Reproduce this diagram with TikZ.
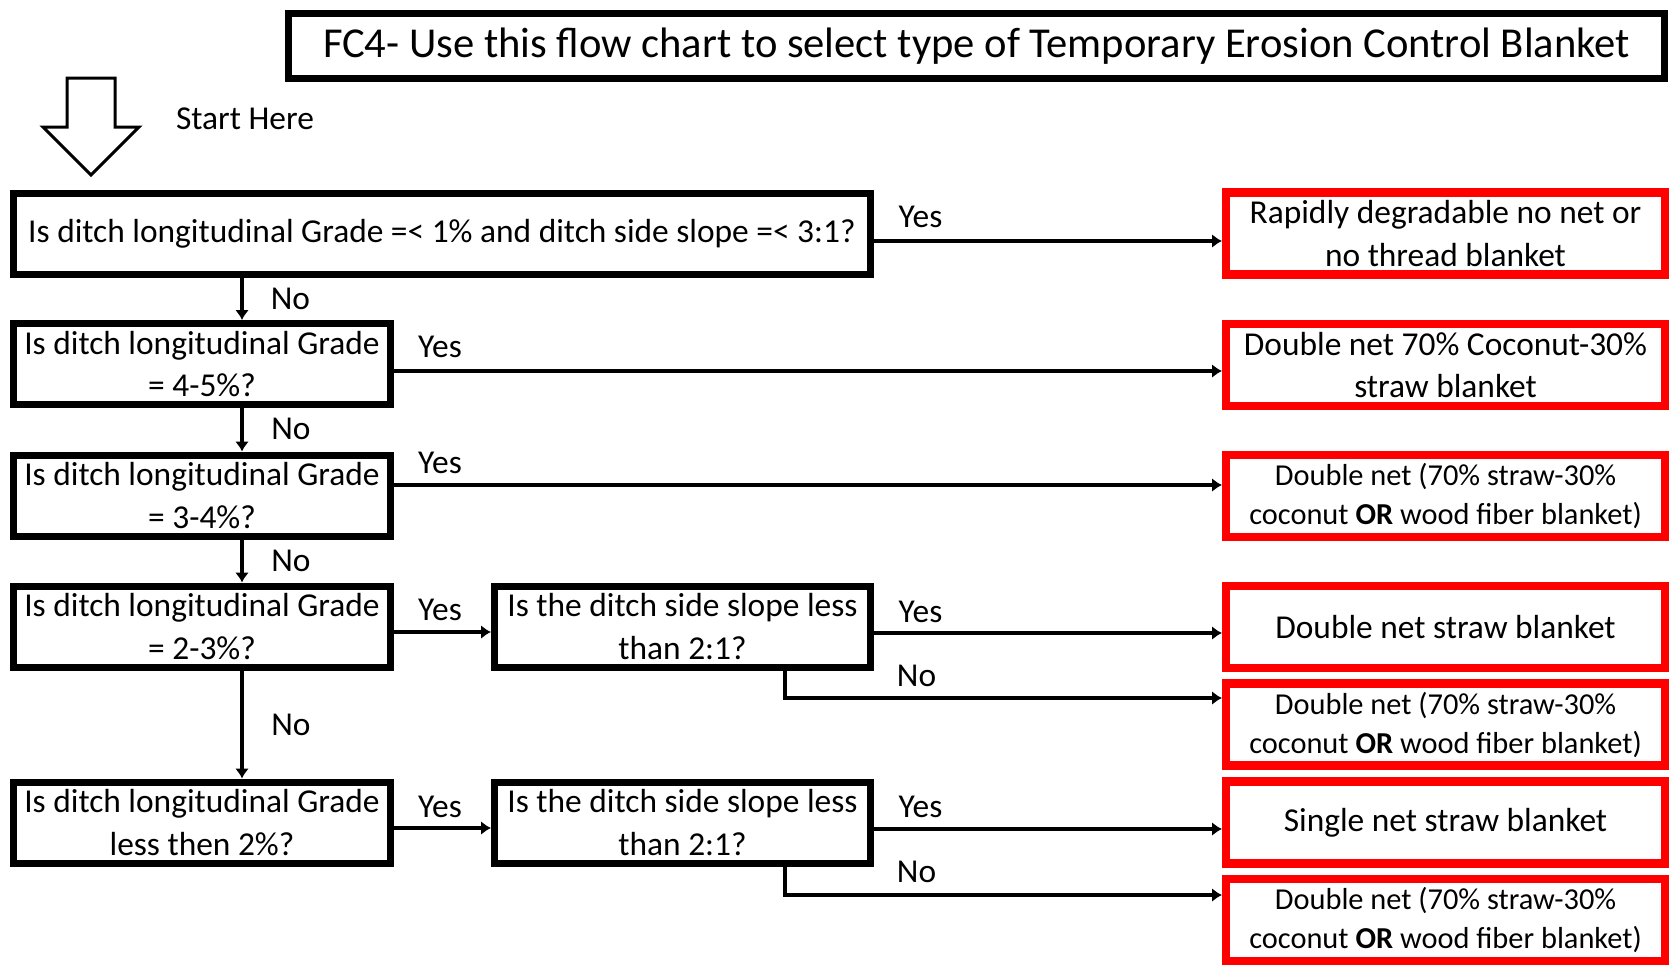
\documentclass[tikz,border=0pt]{standalone}
\usepackage{fontspec}
\setmainfont{Carlito}
\usetikzlibrary{arrows.meta}

\newcommand\fcmain{\fontsize{16.7}{21.4}\selectfont}
\newcommand\fcsmall{\fontsize{15.2}{19.5}\selectfont}
\newcommand\fctitle{\fontsize{21.3}{25}\selectfont}

\begin{document}
\begin{tikzpicture}[x=0.5pt,y=-0.5pt,->,>={Latex[length=5pt,width=7pt]},
                    line width=1.6pt,font=\fcmain]
  \tikzstyle{qbox}=[draw,rectangle,line width=3.5pt,inner sep=0pt,align=center,
                    minimum width=188.5pt,minimum height=40.5pt]
  \tikzstyle{rbox}=[draw=red,rectangle,line width=4.2pt,inner sep=0pt,align=center,
                    minimum width=219.3pt,minimum height=41pt]
  \tikzstyle{lbl}=[inner sep=0pt]

  \useasboundingbox (0,0) rectangle (1669,965);

  \node[qbox,minimum width=688pt,minimum height=32.5pt,font=\fctitle] (title) at (976.5,46)
        {FC4- Use this flow chart to select type of Temporary Erosion Control Blanket};

  % start arrow
  \draw[-,line width=1.5pt] (67,78) -- (115,78) -- (115,127) -- (139,127) -- (91,175)
        -- (43,127) -- (67,127) -- cycle;
  \node[lbl] (start) at (245,119) {Start Here};

  % questions
  \node[qbox,minimum width=428.5pt] (Q1) at (442,234)
        {Is ditch longitudinal Grade =< 1\% and ditch side slope =< 3:1?};
  \node[qbox] (Q2) at (202,364)   {Is ditch longitudinal Grade\\= 4-5\%?};
  \node[qbox] (Q3) at (202,495.5) {Is ditch longitudinal Grade\\= 3-4\%?};
  \node[qbox] (Q4) at (202,626.5) {Is ditch longitudinal Grade\\= 2-3\%?};
  \node[qbox] (Q5) at (202,822.5) {Is ditch longitudinal Grade\\less then 2\%?};
  \node[qbox,minimum width=188pt] (S1) at (682.5,626.5) {Is the ditch side slope less\\than 2:1?};
  \node[qbox,minimum width=188pt] (S2) at (682.5,822.5) {Is the ditch side slope less\\than 2:1?};

  % blankets
  \node[rbox] (R1) at (1445.5,233.5) {Rapidly degradable no net or\\no thread blanket};
  \node[rbox] (R2) at (1445.5,365)   {Double net 70\% Coconut-30\%\\straw blanket};
  \node[rbox,font=\fcsmall] (R3) at (1445.5,496)
        {Double net (70\% straw-30\%\\coconut \textbf{OR} wood fiber blanket)};
  \node[rbox] (R4) at (1445.5,627)   {Double net straw blanket};
  \node[rbox,font=\fcsmall] (R5) at (1445.5,724.5)
        {Double net (70\% straw-30\%\\coconut \textbf{OR} wood fiber blanket)};
  \node[rbox] (R6) at (1445.5,822.5) {Single net straw blanket};
  \node[rbox,font=\fcsmall] (R7) at (1445.5,920)
        {Double net (70\% straw-30\%\\coconut \textbf{OR} wood fiber blanket)};

  % yes branches
  \draw ([yshift=-3.5pt]Q1.east) -- ([yshift=-3.5pt]Q1.east -| R1.west);
  \draw ([yshift=-3.5pt]Q2.east) -- ([yshift=-3.5pt]Q2.east -| R2.west);
  \draw ([yshift=5.25pt]Q3.east) -- ([yshift=5.25pt]Q3.east -| R3.west);
  \draw ([yshift=-2.75pt]Q4.east) -- ([yshift=-2.75pt]Q4.east -| S1.west);
  \draw ([yshift=-3.25pt]S1.east) -- ([yshift=-3.25pt]S1.east -| R4.west);
  \draw ([yshift=-2.75pt]Q5.east) -- ([yshift=-2.75pt]Q5.east -| S2.west);
  \draw ([yshift=-3.25pt]S2.east) -- ([yshift=-3.25pt]S2.east -| R6.west);

  % no branches
  \draw ([xshift=20pt]Q2.north |- Q1.south) -- ([xshift=20pt]Q2.north);
  \draw ([xshift=20pt]Q2.south) -- ([xshift=20pt]Q3.north);
  \draw ([xshift=20pt]Q3.south) -- ([xshift=20pt]Q4.north);
  \draw ([xshift=20pt]Q4.south) -- ([xshift=20pt]Q5.north);
  \draw ([xshift=51.25pt]S1.south) |- ([yshift=13.25pt]R5.west);
  \draw ([xshift=51.25pt]S2.south) |- ([yshift=12.5pt]R7.west);

  % labels
  \node[lbl] (y1) at (920.5,217) {Yes};
  \node[lbl] (y2) at (440,347)   {Yes};
  \node[lbl] (y3) at (440,463)   {Yes};
  \node[lbl] (y4) at (440,610)   {Yes};
  \node[lbl] (y5) at (440,807)   {Yes};
  \node[lbl] (y6) at (920.5,611.5) {Yes};
  \node[lbl] (y7) at (920.5,807) {Yes};
  \node[lbl] (n1) at (290.5,299) {No};
  \node[lbl] (n2) at (291,429)   {No};
  \node[lbl] (n3) at (291,561)   {No};
  \node[lbl] (n4) at (291,725)   {No};
  \node[lbl] (n5) at (916.5,675.5) {No};
  \node[lbl] (n6) at (916.5,872) {No};
\end{tikzpicture}
\end{document}
